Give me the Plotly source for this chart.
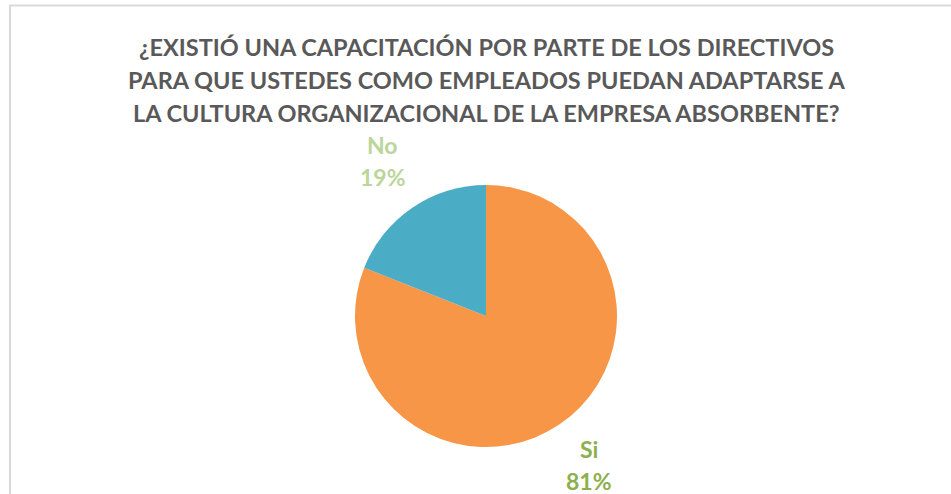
import math
import plotly.graph_objects as go

labels = ["Si", "No"]
values = [81, 19]
slice_colors = ["#F79646", "#4BACC6"]
label_colors = ["#8DB04F", "#BCD59B"]
title_lines = [
    "¿EXISTIÓ UNA CAPACITACIÓN POR PARTE DE LOS DIRECTIVOS",
    "PARA QUE USTEDES COMO EMPLEADOS PUEDAN ADAPTARSE A",
    "LA CULTURA ORGANIZACIONAL DE LA EMPRESA ABSORBENTE?",
]

W, H = 951, 494
cx, cy, r = 486, 316, 131

fig = go.Figure(go.Pie(
    labels=labels,
    values=values,
    sort=False,
    direction="clockwise",
    rotation=0,
    marker=dict(colors=slice_colors, line=dict(color="white", width=0)),
    textinfo="none",
    hoverinfo="label+percent",
    showlegend=False,
    domain=dict(x=[(cx - r) / W, (cx + r) / W], y=[(H - cy - r) / H, (H - cy + r) / H]),
))

annotations = []
# title, one annotation per line
for i, line in enumerate(title_lines):
    annotations.append(dict(
        text="<b>" + line + "</b>", xref="paper", yref="paper",
        x=cx / W, y=1 - (47 + 33 * i) / H, xanchor="center", yanchor="middle",
        showarrow=False, font=dict(family="Lato", size=23.5, color="#595959"),
    ))

# data labels outside each slice, along the slice's middle angle
total = sum(values)
start = 0
dist = 184
for lab, val, col in zip(labels, values, label_colors):
    mid = (start + val / 2) / total * 2 * math.pi
    start += val
    px = cx + dist * math.sin(mid)
    py = cy - dist * math.cos(mid) - 3
    pct = round(100 * val / total)
    for j, txt in enumerate([lab, "%d%%" % pct]):
        annotations.append(dict(
            text="<b>%s</b>" % txt,
            xref="paper", yref="paper", x=px / W, y=1 - (py + (j - 0.5) * 32) / H,
            xanchor="center", yanchor="middle", showarrow=False,
            font=dict(family="Lato", size=23, color=col),
        ))

fig.update_layout(
    width=W, height=H,
    margin=dict(l=0, r=0, t=0, b=0),
    paper_bgcolor="white",
    annotations=annotations,
    shapes=[dict(type="rect", xref="paper", yref="paper",
                 x0=10 / W, x1=1.05, y0=-0.1, y1=1 - 5.5 / H,
                 line=dict(color="#D9D9D9", width=2))],
)

fig.write_html("out.html", config={"displayModeBar": False},
               post_script="document.body.style.margin='0';")
